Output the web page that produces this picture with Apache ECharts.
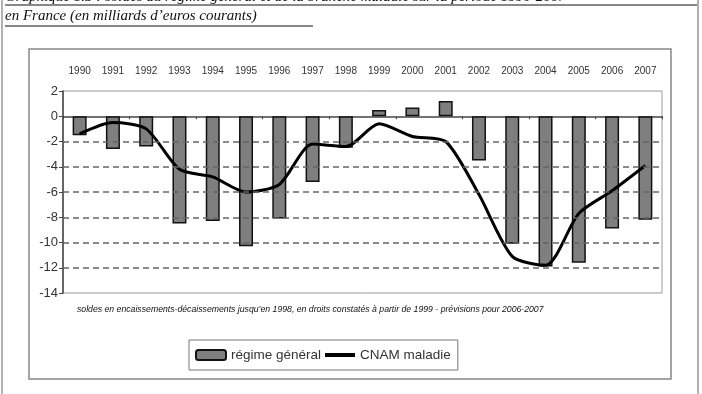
<!DOCTYPE html>
<html>
<head>
<meta charset="utf-8">
<script src="https://cdn.jsdelivr.net/npm/echarts@6/dist/echarts.min.js"></script>
<style>
  html, body { margin: 0; padding: 0; background: #fff; }
  #chart { width: 702px; height: 394px; }
</style>
</head>
<body>
<div id="chart"></div>
<script>
// années
const years = ['1990', '1991', '1992', '1993', '1994', '1995', '1996', '1997', '1998',
  '1999', '2000', '2001', '2002', '2003', '2004', '2005', '2006', '2007'];
// soldes du régime général (Md€)
const regimeGeneral = [-1.5, -2.6, -2.4, -8.5, -8.3, -10.3, -8.1, -5.2, -2.5,
  0.5, 0.7, 1.2, -3.5, -10.1, -11.9, -11.6, -8.9, -8.2];
// soldes CNAM maladie (Md€)
const cnamMaladie = [-1.4, -0.5, -1.0, -4.2, -4.8, -6.0, -5.4, -2.2, -2.4,
  -0.6, -1.6, -2.0, -6.2, -11.1, -11.8, -7.7, -5.9, -3.9];
// lignes pointillées
const dashedTicks = [-2, -4, -6, -8, -10, -12];

const chart = echarts.init(document.getElementById('chart'));

const option = {
  animation: false,
  backgroundColor: '#fff',
  grid: {
    left: 63,
    right: 40,
    top: 91,
    bottom: 101,
    show: true,
    borderColor: '#999',
    borderWidth: 1,
    backgroundColor: 'transparent'
  },
  legend: {
    orient: 'horizontal',
    left: 189,
    top: 340,
    padding: [8, 7, 8, 6],
    borderColor: '#777',
    borderWidth: 1,
    itemWidth: 30,
    itemHeight: 10,
    itemGap: 4,
    textStyle: { fontFamily: 'Arial, Liberation Sans', fontSize: 13.5, color: '#333' },
    data: [
      { name: 'régime général' },
      { name: 'CNAM maladie', icon: 'path://M0,0 L30,0 L30,4 L0,4 Z', itemStyle: { color: '#000', borderWidth: 0 } }
    ]
  },
  xAxis: [{
    type: 'category',
    data: years,
    position: 'bottom',
    axisLine: { onZero: true, lineStyle: { color: '#444', width: 1.5 } },
    axisTick: { show: true, length: 3, lineStyle: { color: '#444' } },
    axisLabel: { show: false },
    splitLine: { show: false }
  }, {
    type: 'category',
    data: years,
    position: 'top',
    axisLine: { show: false },
    axisTick: { show: false },
    axisLabel: {
      margin: 15,
      fontFamily: 'Arial, Liberation Sans',
      fontSize: 10,
      color: '#333'
    }
  }],
  yAxis: {
    type: 'value',
    min: -14,
    max: 2,
    interval: 2,
    axisLine: { show: true, lineStyle: { color: '#444', width: 1.5 } },
    axisTick: { show: true, length: 4, lineStyle: { color: '#444' } },
    axisLabel: { fontFamily: 'Arial, Liberation Sans', fontSize: 13, color: '#333', margin: 5 },
    splitLine: { show: false }
  },
  series: [{
    name: 'régime général',
    type: 'bar',
    barWidth: 14,
    data: regimeGeneral,
    itemStyle: { color: '#7f7f7f', borderColor: '#111', borderWidth: 1.5 },
    markLine: {
      silent: true,
      symbol: 'none',
      label: { show: false },
      lineStyle: { color: '#666', width: 1.5, type: [6, 4] },
      data: dashedTicks.map(v => ({ yAxis: v }))
    },
    z: 3
  }, {
    name: 'CNAM maladie',
    type: 'line',
    data: cnamMaladie,
    smooth: 0.25,
    symbol: 'none',
    lineStyle: { color: '#000', width: 3 },
    itemStyle: { color: '#000' },
    z: 4
  }],
  graphic: [
    // cadre extérieur
    { type: 'line', shape: { x1: 2, y1: 0, x2: 2, y2: 394 }, style: { stroke: '#999', lineWidth: 1.5 } },
    { type: 'line', shape: { x1: 698, y1: 0, x2: 698, y2: 394 }, style: { stroke: '#999', lineWidth: 1.5 } },
    // cadre du graphique
    { type: 'rect', shape: { x: 29, y: 49, width: 642, height: 330 }, style: { fill: 'none', stroke: '#888', lineWidth: 1.5 } },
    // titre
    {
      type: 'text', left: 5, top: -10,
      style: {
        text: 'Graphique 1.5 : soldes du régime général et de la branche maladie sur la période 1990-2007',
        font: 'italic 15px "Liberation Serif", "Times New Roman", serif',
        fill: '#111'
      }
    },
    { type: 'line', shape: { x1: 5, y1: 5, x2: 697, y2: 5 }, style: { stroke: '#111', lineWidth: 1 } },
    {
      type: 'text', left: 5, top: 9,
      style: {
        text: 'en France (en milliards d\u2019euros courants)',
        font: 'italic 15px "Liberation Serif", "Times New Roman", serif',
        fill: '#111'
      }
    },
    { type: 'line', shape: { x1: 5, y1: 26, x2: 313, y2: 26 }, style: { stroke: '#111', lineWidth: 1 } },
    // note
    {
      type: 'text', left: 77, top: 305,
      style: {
        text: 'soldes en encaissements-décaissements jusqu\u2019en 1998, en droits constatés à partir de 1999 - prévisions pour 2006-2007',
        font: 'italic 8.7px Arial, "Liberation Sans", sans-serif',
        fill: '#111'
      }
    }
  ]
};

chart.setOption(option);
</script>
</body>
</html>
